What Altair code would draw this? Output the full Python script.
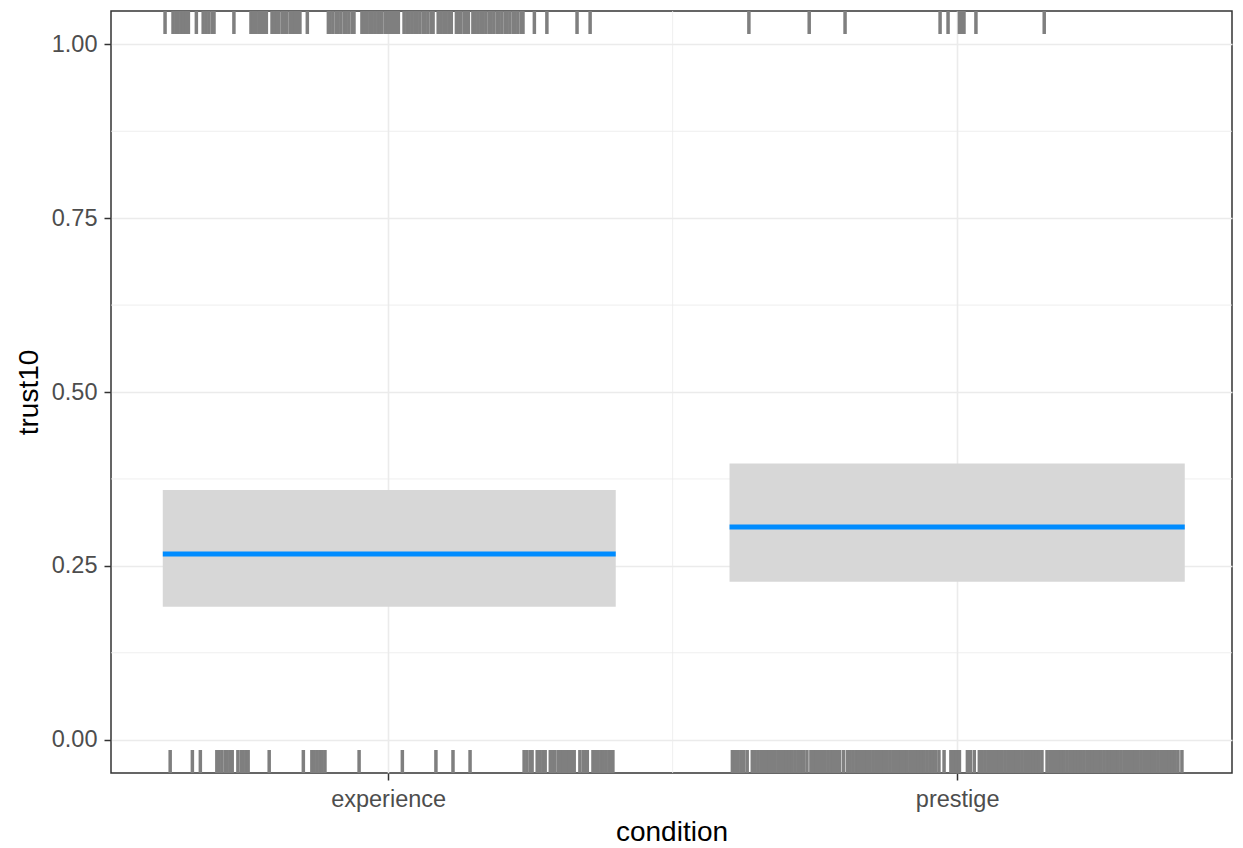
import altair as alt
import pandas as pd

# ---- data ----
conditions = ["experience", "prestige"]
cond_pos = [1, 2]
band_start = [0.604, 1.600]
band_end = [1.400, 2.400]
fit = [0.267, 0.306]
ci_low = [0.191, 0.227]
ci_high = [0.359, 0.397]

# rug (jittered x positions) for trust10 == 1
rug_top_experience = [
    0.608, 0.622, 0.627, 0.631, 0.636, 0.640, 0.645, 0.649, 0.663, 0.675, 0.680, 0.685,
    0.691, 0.694, 0.729, 0.759, 0.763, 0.768, 0.773, 0.777, 0.782, 0.786, 0.796, 0.800,
    0.805, 0.808, 0.814, 0.819, 0.822, 0.828, 0.833, 0.837, 0.842, 0.845, 0.858, 0.895,
    0.898, 0.903, 0.909, 0.912, 0.917, 0.923, 0.926, 0.931, 0.937, 0.940, 0.954, 0.958,
    0.963, 0.968, 0.972, 0.977, 0.982, 0.986, 0.989, 0.995, 1.000, 1.004, 1.009, 1.014,
    1.018, 1.028, 1.033, 1.037, 1.042, 1.047, 1.051, 1.056, 1.062, 1.065, 1.070, 1.076,
    1.079, 1.088, 1.093, 1.098, 1.102, 1.107, 1.111, 1.120, 1.125, 1.128, 1.134, 1.137,
    1.141, 1.149, 1.153, 1.158, 1.163, 1.167, 1.172, 1.178, 1.181, 1.186, 1.192, 1.195,
    1.200, 1.206, 1.209, 1.214, 1.220, 1.223, 1.228, 1.234, 1.237, 1.257, 1.279, 1.332,
    1.355,
]
rug_top_prestige = [1.634, 1.740, 1.803, 1.970, 1.984, 2.004, 2.009, 2.012, 2.033, 2.153]

# rug (jittered x positions) for trust10 == 0
rug_bottom_experience = [
    0.617, 0.656, 0.670, 0.699, 0.703, 0.708, 0.714, 0.717, 0.722, 0.726, 0.736, 0.742,
    0.745, 0.750, 0.754, 0.791, 0.851, 0.866, 0.870, 0.875, 0.880, 0.884, 0.889, 0.949,
    1.025, 1.084, 1.114, 1.144, 1.239, 1.244, 1.250, 1.253, 1.262, 1.267, 1.272, 1.276,
    1.285, 1.290, 1.293, 1.299, 1.304, 1.308, 1.313, 1.318, 1.322, 1.327, 1.337, 1.343,
    1.346, 1.350, 1.360, 1.364, 1.369, 1.374, 1.378, 1.383, 1.388, 1.392, 1.395,
]
rug_bottom_prestige = [
    1.605, 1.610, 1.615, 1.620, 1.625, 1.631,
    1.640, 1.645, 1.650, 1.655, 1.660, 1.665, 1.670, 1.675, 1.680, 1.685, 1.690, 1.695,
    1.700, 1.705, 1.710, 1.715, 1.720, 1.725, 1.730, 1.736,
    1.743, 1.748, 1.753, 1.758, 1.763, 1.768, 1.773, 1.778, 1.783, 1.788, 1.793, 1.800,
    1.807, 1.812, 1.817, 1.822, 1.827, 1.832, 1.837, 1.842, 1.847, 1.852, 1.857, 1.862,
    1.867, 1.872, 1.877, 1.882, 1.887, 1.892, 1.897, 1.902, 1.907, 1.912, 1.917, 1.922,
    1.927, 1.932, 1.937, 1.942, 1.947, 1.952, 1.957, 1.962, 1.968,
    1.977,
    1.989, 1.994, 1.999, 2.004,
    2.018, 2.023, 2.030,
    2.039, 2.044, 2.049, 2.054, 2.059, 2.064, 2.069, 2.074, 2.079, 2.084, 2.089, 2.094,
    2.099, 2.104, 2.109, 2.114, 2.119, 2.124, 2.129, 2.134, 2.139, 2.144, 2.149,
    2.158, 2.163, 2.168, 2.173, 2.178, 2.183, 2.188, 2.193, 2.198, 2.203, 2.208, 2.213,
    2.218, 2.223, 2.228, 2.233, 2.238, 2.243, 2.248, 2.253, 2.258, 2.263, 2.268, 2.273,
    2.278, 2.283, 2.288, 2.293, 2.298, 2.303, 2.308, 2.313, 2.318, 2.323, 2.328, 2.333,
    2.338, 2.343, 2.348, 2.353, 2.358, 2.363, 2.368, 2.373, 2.378, 2.383, 2.388, 2.395,
]

y_ticks = [0.0, 0.25, 0.5, 0.75, 1.0]
y_minor = [0.125, 0.375, 0.625, 0.875]
x_minor = [1.5]

# ---- layout ----
W, H = 1121, 762
RUG = 23
FONT = "Liberation Sans"

fit_df = pd.DataFrame({
    "condition": conditions, "pos": cond_pos, "x0": band_start, "x1": band_end,
    "fit": fit, "lo": ci_low, "hi": ci_high,
})
top_df = pd.DataFrame({"x0": rug_top_experience + rug_top_prestige})
bot_df = pd.DataFrame({"x0": rug_bottom_experience + rug_bottom_prestige})
ymin_df = pd.DataFrame({"lo": y_minor})
xmin_df = pd.DataFrame({"x0": x_minor})

xs = alt.Scale(domain=[0.513, 2.483], nice=False, zero=False)
ys = alt.Scale(domain=[-0.048, 1.048], nice=False, zero=False)

label_expr = " : ".join(
    f"datum.value == {p} ? '{c}'" for p, c in zip(cond_pos, conditions)
) + " : ''"

x_axis = alt.Axis(values=cond_pos, labelExpr=label_expr, grid=True, labelPadding=7,
                  titleBaseline="alphabetic", titleY=67, titleX=W / 2)
y_axis = alt.Axis(values=y_ticks, format=".2f", grid=True, labelPadding=7,
                  titleBaseline="alphabetic", titleX=-74, titleY=H / 2, titleAngle=270)

X = alt.X("x0:Q", scale=xs, axis=x_axis, title="condition")
Y = alt.Y("lo:Q", scale=ys, axis=y_axis, title="trust10")

minor_y = alt.Chart(ymin_df).mark_rule(color="#ebebeb", strokeWidth=0.8).encode(y=Y)
minor_x = alt.Chart(xmin_df).mark_rule(color="#ebebeb", strokeWidth=0.8).encode(x=X)

band = alt.Chart(fit_df).mark_rect(color="#d7d7d7").encode(x=X, x2="x1:Q", y=Y, y2="hi:Q")
line = alt.Chart(fit_df).mark_rule(color="#008cff", strokeWidth=5).encode(
    x=X, x2="x1:Q",
    y=alt.Y("fit:Q", scale=ys, axis=y_axis, title="trust10"),
)
rug_top = alt.Chart(top_df).mark_rule(color="#7f7f7f", strokeWidth=3.5).encode(
    x=X, y=alt.value(0), y2=alt.value(RUG),
)
rug_bot = alt.Chart(bot_df).mark_rule(color="#7f7f7f", strokeWidth=3.5).encode(
    x=X, y=alt.value(H - RUG), y2=alt.value(H),
)

chart = (
    alt.layer(minor_y, minor_x, band, line, rug_top, rug_bot)
    .properties(
        width=W, height=H,
        autosize=alt.AutoSizeParams(type="none"),
        padding={"left": 111, "top": 11, "right": 11, "bottom": 75},
        background="white",
    )
    .configure_view(stroke="#333333", strokeWidth=1.5)
    .configure_axis(
        domain=False,
        labelFont=FONT, titleFont=FONT,
        labelFontSize=23.5, titleFontSize=28, titleFontWeight="normal",
        labelColor="#4d4d4d", titleColor="#000000",
        tickColor="#333333", tickWidth=1.5, tickSize=7,
        gridColor="#ebebeb", gridWidth=1.6,
    )
)

chart.save("out.html", embed_options={"renderer": "svg", "actions": False})
